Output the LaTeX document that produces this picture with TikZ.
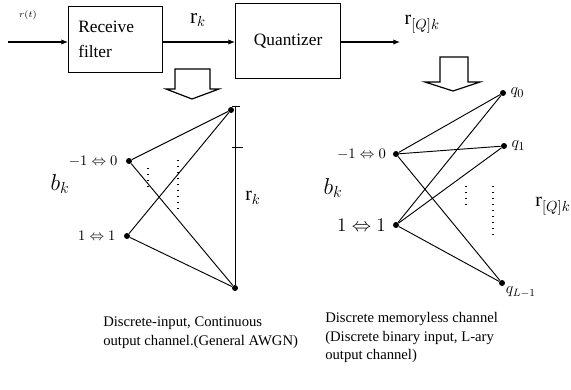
\documentclass[tikz,border=0pt]{standalone}
\usepackage{fontspec}
\setmainfont{Liberation Serif}
\usetikzlibrary{arrows.meta}
\begin{document}
\begin{tikzpicture}[x=0.75pt,y=-0.75pt,
  blk/.style={draw,line width=0.9pt,inner sep=0pt},
  sig/.style={line width=0.8pt,-{Latex[length=5pt,width=4pt]}},
  ln/.style={line width=0.7pt},
  dotnode/.style={circle,fill,inner sep=0pt,minimum size=4.5pt},
  hollow/.style={draw,line width=0.9pt,fill=white},
  dotted line/.style={line width=0.9pt,dash pattern=on 1pt off 3.5pt},
  captext/.style={font=\fontsize{11}{14}\selectfont,align=left,anchor=north west,inner sep=0pt},
  inlab/.style={anchor=east,inner sep=0pt}
]
\useasboundingbox (0,0) rectangle (571,389);
% top blocks
\node[blk,minimum width=94*0.75pt,minimum height=66*0.75pt,anchor=north west] (rf) at (68,6) {};
\node[font=\fontsize{13}{18.5}\selectfont,align=left,anchor=west,inner sep=0pt] (rft) at ([xshift=7.5pt]rf.west) {Receive\\filter};
\node[blk,minimum width=105*0.75pt,minimum height=75*0.75pt,anchor=north west,
      font=\fontsize{13}{17}\selectfont] (qz) at (235,3) {Quantizer};
\coordinate (in) at (8,42);
\coordinate (out) at (400,42);
\draw[sig] (in) -- (rf.west|-in);
\draw[sig] (rf.east|-in) -- (qz.west|-in);
\draw[sig] (qz.east|-in) -- (out);
\node[font=\fontsize{7}{8}\selectfont] (rt) at (28,15) {$r(t)$};
\node[font=\fontsize{16}{18}\selectfont] (rk) at (198,20) {$\mathrm{r}_k$};
\node[font=\fontsize{15}{18}\selectfont,anchor=west] (rq) at (400,24) {$\mathrm{r}_{[Q]k}$};
% hollow arrows
\draw[hollow] (175,69) -- (210,69) -- (210,89) -- (219,89) -- (192,99) -- (166,89) -- (175,89) -- cycle;
\draw[hollow] (440,57) -- (468,57) -- (468,82) -- (480,82) -- (453,91) -- (425,82) -- (440,82) -- cycle;
% left channel
\node[dotnode] (a0) at (129,161) {};
\node[dotnode] (a1) at (127,236) {};
\node[dotnode] (at) at (231,110) {};
\node[dotnode] (ab) at (235,288) {};
\coordinate (vt) at (235,106);
\draw[ln] (vt) -- (ab);
\draw[ln] (232,106) -- (240,106);
\draw[ln] (232,147) -- (243,147);
\draw[ln] (a0) -- (at);
\draw[ln] (a0) -- (ab);
\draw[ln] (a1) -- (at);
\draw[ln] (a1) -- (ab);
\draw[dotted line] (148,168) -- (148,192);
\draw[dotted line] (178,160) -- (178,210);
\node[inlab,font=\fontsize{11}{12}\selectfont] (la0) at ([xshift=-6pt]a0.west) {$-1\Leftrightarrow0$};
\node[inlab,font=\fontsize{11}{12}\selectfont] (la1) at ([xshift=-6pt]a1.west) {$1\Leftrightarrow1$};
\node[font=\fontsize{18}{20}\selectfont] (bk1) at (60,184) {$b_k$};
\node[font=\fontsize{15}{18}\selectfont] (rk2) at (253,198) {$\mathrm{r}_k$};
% right channel
\node[dotnode] (b0) at (396,154) {};
\node[dotnode] (b1) at (396,225) {};
\node[dotnode] (q0) at (503,93) {};
\node[dotnode] (q1) at (504,146) {};
\node[dotnode] (qL) at (502,283) {};
\foreach \s in {b0,b1} \foreach \t in {q0,q1,qL} \draw[ln] (\s) -- (\t);
\draw[dotted line] (466,186) -- (466,208);
\draw[dotted line] (493,186) -- (493,238);
\node[inlab,font=\fontsize{11}{12}\selectfont] (lb0) at ([xshift=-5pt]b0.west) {$-1\Leftrightarrow0$};
\node[inlab,font=\fontsize{14}{16}\selectfont] (lb1) at ([xshift=-5pt]b1.west) {$1\Leftrightarrow1$};
\node[anchor=west,font=\fontsize{13}{15}\selectfont,inner sep=1pt] (lq0) at ([xshift=2pt]q0.east) {$q_0$};
\node[anchor=west,font=\fontsize{13}{15}\selectfont,inner sep=1pt] (lq1) at ([xshift=2pt]q1.east) {$q_1$};
\node[anchor=north west,font=\fontsize{12}{14}\selectfont,inner sep=1pt] (lqL) at (qL.south east) {$q_{L-1}$};
\node[font=\fontsize{17}{20}\selectfont] (bk2) at (333,188) {$b_k$};
\node[font=\fontsize{15}{18}\selectfont] (rq2) at (553,206) {$\mathrm{r}_{[Q]k}$};
% captions
\node[captext] (c1) at (103,317) {Discrete-input, Continuous\\output channel.(General AWGN)};
\node[captext] (c2) at (325,312) {Discrete memoryless channel\\(Discrete binary input, L-ary\\output channel)};
\end{tikzpicture}
\end{document}
